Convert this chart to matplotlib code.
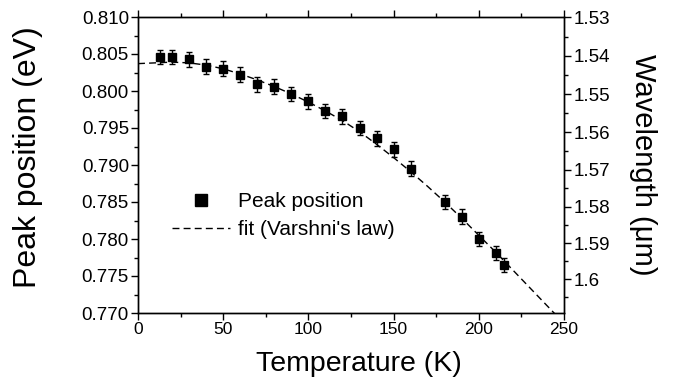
import matplotlib
matplotlib.use('Agg')
import matplotlib.pyplot as plt
from matplotlib.ticker import FixedLocator, MultipleLocator

plt.rcParams['font.family'] = ['Liberation Sans', 'DejaVu Sans']

# ---- data ----
temp_K = [13, 20, 30, 40, 50, 60, 70, 80, 90, 100, 110, 120, 130, 140,
          150, 160, 180, 190, 200, 210, 215]
peak_eV = [0.8046, 0.8046, 0.8043, 0.8033, 0.8030, 0.8022, 0.8009, 0.8006,
           0.7996, 0.7986, 0.7973, 0.7966, 0.7950, 0.7936, 0.7921, 0.7895,
           0.7850, 0.7830, 0.7800, 0.7781, 0.7765]
peak_err = [0.0010, 0.0010, 0.0010, 0.0010, 0.0010, 0.0010, 0.0010, 0.0010,
            0.0010, 0.0010, 0.0010, 0.0010, 0.0010, 0.0010, 0.0010, 0.0010,
            0.0010, 0.0010, 0.0010, 0.0010, 0.0010]

fit_T = [0, 10, 20, 30, 40, 50, 60, 70, 80, 90, 100, 110, 120, 130, 140,
         150, 160, 170, 180, 190, 200, 210, 220, 230, 240, 250]
fit_E = [0.8037, 0.8038, 0.8039, 0.8038, 0.8035, 0.8030, 0.8023, 0.8015,
         0.8006, 0.7996, 0.7985, 0.7973, 0.7960, 0.7945, 0.7928, 0.7910,
         0.7891, 0.7871, 0.7850, 0.7828, 0.7805, 0.7782, 0.7758, 0.7734,
         0.7710, 0.7686]

x_ticks = [0, 50, 100, 150, 200, 250]
y_ticks = [0.770, 0.775, 0.780, 0.785, 0.790, 0.795, 0.800, 0.805, 0.810]
y_tick_labels = ['0.770', '0.775', '0.780', '0.785', '0.790', '0.795',
                 '0.800', '0.805', '0.810']
wl_ticks = [1.53, 1.54, 1.55, 1.56, 1.57, 1.58, 1.59, 1.60]
wl_labels = ['1.53', '1.54', '1.55', '1.56', '1.57', '1.58', '1.59', '1.6']
wl_minor = [1.535, 1.545, 1.555, 1.565, 1.575, 1.585, 1.595, 1.605]
hc = 1.2393  # eV * um

W, H = 673, 390
fig = plt.figure(figsize=(W / 100, H / 100), dpi=100)
L, R, T, B = 138, 564, 17, 313
ax = fig.add_axes([L / W, 1 - B / H, (R - L) / W, (B - T) / H])

h_fit, = ax.plot(fit_T, fit_E, color='black', lw=1.0, linestyle=(0, (5, 3)),
                 label="fit (Varshni's law)", zorder=2)
ax.errorbar(temp_K, peak_eV, yerr=peak_err, fmt='none', ecolor='black',
            elinewidth=1.0, capsize=2.4, capthick=1.0, zorder=3)
h_pts, = ax.plot(temp_K, peak_eV, 's', color='black', ms=5.8,
                 label='Peak position', zorder=4)

ax.set_xlim(0, 250)
ax.set_ylim(0.770, 0.810)
ax.xaxis.set_major_locator(FixedLocator(x_ticks))
ax.xaxis.set_minor_locator(MultipleLocator(25))
ax.set_xticklabels([str(v) for v in x_ticks])
ax.yaxis.set_major_locator(FixedLocator(y_ticks))
ax.yaxis.set_minor_locator(MultipleLocator(0.0025))
ax.set_yticklabels(y_tick_labels)

ax.tick_params(which='both', direction='out', top=True, right=False,
               labeltop=False, width=1.0)
ax.tick_params(which='major', length=5)
ax.tick_params(which='minor', length=3)
ax.tick_params(axis='y', labelsize=13.5, pad=1.5)
ax.tick_params(axis='x', labelsize=12.5, pad=1.5)
for s in ax.spines.values():
    s.set_linewidth(1.0)

ax.set_xlabel('Temperature (K)', fontsize=20.5, va='center')
ax.xaxis.set_label_coords((359 - L) / (R - L), (B - 364) / (B - T))
ax.set_ylabel('Peak position (eV)', fontsize=23, va='center')
ax.yaxis.set_label_coords((28 - L) / (R - L), (B - 157) / (B - T))

ax.legend(handles=[h_pts, h_fit], loc='center left',
          bbox_to_anchor=((171.7 - L) / (R - L), (B - 215.5) / (B - T)),
          frameon=False, fontsize=15, handlelength=2.8, handletextpad=0.36,
          labelspacing=0.42, borderpad=0, borderaxespad=0, markerscale=1.6,
          numpoints=1)

ax2 = ax.twinx()
ax2.set_ylim(ax.get_ylim())
ax2.yaxis.set_major_locator(FixedLocator([hc / w for w in wl_ticks]))
ax2.set_yticklabels(wl_labels)
ax2.yaxis.set_minor_locator(FixedLocator([hc / w for w in wl_minor]))
ax2.tick_params(which='both', direction='out', width=1.0)
ax2.tick_params(which='major', length=5)
ax2.tick_params(which='minor', length=3)
ax2.tick_params(axis='y', labelsize=13.5, pad=2)
for s in ax2.spines.values():
    s.set_linewidth(1.0)
ax2.set_ylabel('Wavelength (μm)', fontsize=21, rotation=-90, va='center')
ax2.yaxis.set_label_coords((643 - L) / (R - L), (B - 165) / (B - T))

fig.savefig('out.png', dpi=100)
